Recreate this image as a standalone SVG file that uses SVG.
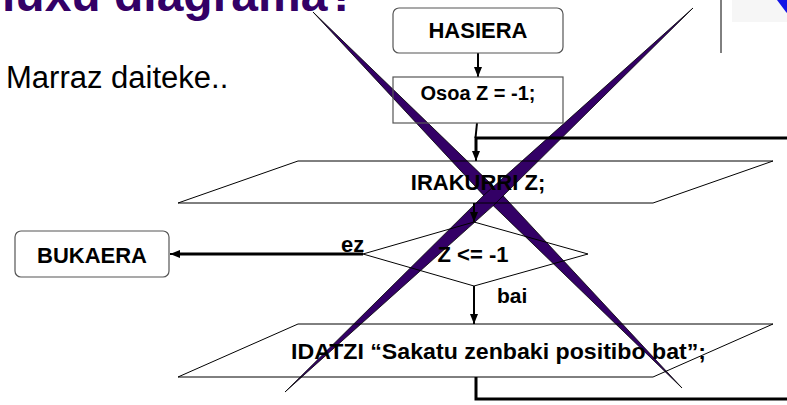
<svg xmlns="http://www.w3.org/2000/svg" width="787" height="405" viewBox="0 0 787 405">
<defs>
<marker id="ah" markerUnits="userSpaceOnUse" markerWidth="10" markerHeight="10" viewBox="0 0 10 10" refX="10" refY="5" orient="auto">
<path d="M0,1 L10,5 L0,9 Z" fill="#000"/>
</marker>
<style>
.t{font-family:"Liberation Sans",Arial,sans-serif;font-weight:bold;fill:#000;}
.box{fill:none;stroke:#555;stroke-width:1.2;}
.shape{fill:none;stroke:#000;stroke-width:1;}
.con{fill:none;stroke:#000;stroke-width:2;}
.thick{fill:none;stroke:#000;stroke-width:3;}
.x{fill:#330066;stroke:#000;stroke-width:0.8;}
</style>
</defs>
<rect width="787" height="405" fill="#fff"/>
<text x="2" y="11" font-family="Liberation Sans, Arial, sans-serif" font-weight="bold" font-size="48" fill="#330066">luxu diagrama?</text>
<text x="6" y="88" font-family="Liberation Sans, Arial, sans-serif" font-size="31" fill="#000">Marraz daiteke..</text>
<rect x="732" y="0" width="55" height="22" fill="#f6f6f6"/>
<polygon points="777,0 787,0 787,13 786,12" fill="#1414e6"/>
<line x1="721" y1="0" x2="721" y2="53" stroke="#000" stroke-width="1"/>
<g id="cross">
<polygon class="x" points="313,12 502.5,195.1 682,388 492.5,204.9"/>
<polygon class="x" points="693,8 493.8,205.1 285,392 484.2,194.9"/>
</g>
<g id="connectors">
<line class="con" x1="478" y1="53" x2="478" y2="77" marker-end="url(#ah)"/>
<line class="con" x1="477" y1="123" x2="475.5" y2="138"/>
<polyline class="thick" points="790,138 476,138 476,152"/>
<line class="con" x1="476" y1="150" x2="476" y2="161" marker-end="url(#ah)"/>
<line class="con" x1="474" y1="203" x2="474" y2="222" marker-end="url(#ah)"/>
<line class="thick" x1="363" y1="254" x2="178" y2="254"/>
<line class="con" x1="180" y1="254" x2="170" y2="254" marker-end="url(#ah)"/>
<line class="con" x1="474" y1="286" x2="474" y2="324" marker-end="url(#ah)"/>
<polyline class="thick" points="476,377 476,399 790,399"/>
<text class="t" x="341" y="252" font-size="22">ez</text>
<text class="t" x="497" y="303" font-size="21">bai</text>
</g>
<g id="hasiera">
<rect class="box" x="393" y="8" width="170" height="45" rx="6"/>
<text class="t" x="478" y="38" font-size="22" text-anchor="middle">HASIERA</text>
</g>
<g id="osoa">
<rect class="box" x="393" y="77" width="170" height="46"/>
<text class="t" x="478" y="100" font-size="20" text-anchor="middle">Osoa Z = -1;</text>
</g>
<g id="irakurri">
<polygon class="shape" points="298,161 773,161 653,203 178,203"/>
<text class="t" x="478" y="190" font-size="22" text-anchor="middle">IRAKURRI Z;</text>
</g>
<g id="baldintza">
<polygon class="shape" points="363,254 474,222 588,254 474,286"/>
<text class="t" x="473" y="262" font-size="22" text-anchor="middle">Z &lt;= -1</text>
</g>
<g id="bukaera">
<rect class="box" x="15" y="231" width="154" height="46" rx="6"/>
<text class="t" x="92" y="263" font-size="22" text-anchor="middle">BUKAERA</text>
</g>
<g id="idatzi">
<polygon class="shape" points="298,324 773,324 653,377 178,377"/>
<text class="t" x="291" y="359" font-size="22" textLength="415" lengthAdjust="spacingAndGlyphs">IDATZI “Sakatu zenbaki positibo bat”;</text>
</g>
</svg>
